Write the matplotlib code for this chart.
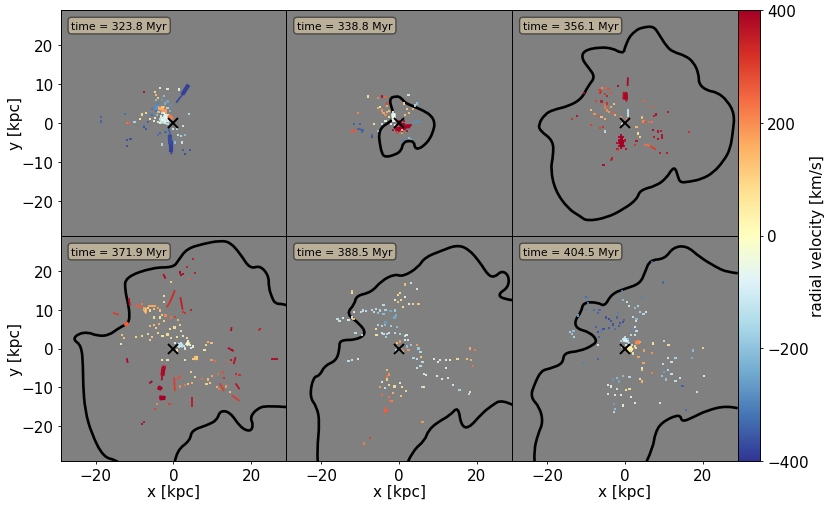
import numpy as np
import matplotlib
matplotlib.use("Agg")
import matplotlib.pyplot as plt
from matplotlib.collections import LineCollection
from matplotlib.cm import ScalarMappable
from matplotlib.colors import Normalize
from matplotlib.path import Path
from matplotlib.patches import PathPatch

times = [323.8, 338.8, 356.1, 371.9, 388.5, 404.5]

# shock contours, kpc
c2 = [(-2.0,6.5),(-0.7,7.0),(0.6,6.4),(1.5,5.2),(3.6,4.3),(6.2,3.2),(8.3,1.9),(9.2,0),(8.8,-2.0),(7.9,-4.1),
      (6.4,-5.8),(4.9,-6.7),(4.0,-6.3),(3.9,-5.0),(2.7,-4.5),(1.0,-5.0),(0.6,-7.1),(-1.1,-8.2),(-3.7,-8.8),
      (-4.5,-7.6),(-5.0,-5.0),(-5.2,-2.8),(-4.5,-1.1),(-3.3,-0.3),(-1.5,0.9),(-1.5,2.7),(-2.1,4.5),(-2.4,5.8),(-2.0,6.5)]
c3 = [(-0.3,18.2),(0.5,21.2),(2.7,23.8),(4.8,24.6),(7.4,24.8),(8.7,22.9),(10.8,19.5),(12.5,18.2),(15.5,17.3),
      (17.7,15.6),(19.0,12.6),(19.0,10.0),(21.1,8.3),(23.7,7.9),(26.3,5.8),(28.2,2.3),(27.8,-2.0),(27.1,-6.7),
      (25.4,-9.7),(22.8,-12.7),(19.8,-14.4),(16.4,-15.1),(14.2,-15.3),(13.6,-13.6),(13.0,-11.6),(12.1,-11.8),
      (10.8,-14.0),(8.2,-16.1),(3.9,-17.2),(3.1,-19.6),(-0.3,-22.1),(-4.6,-24.3),(-9.8,-25.2),(-11.5,-23.9),
      (-14.5,-22.1),(-17.9,-17.4),(-19.1,-11.8),(-18.4,-8.4),(-18.4,-4.5),(-21.8,-2.0),(-22.2,-0.3),(-20.5,2.3),
      (-18.4,3.4),(-14.5,4.3),(-11.1,6.2),(-9.4,9.6),(-7.6,11.8),(-9.4,14.3),(-11.1,16.5),(-10.6,18.6),(-6.4,19.5),
      (-2.9,19.1),(-1.2,18.0),(-0.3,18.2)]
c4a = [(29.2,11.1),(28.3,11.5),(26.2,11.5),(25.3,13.2),(24.5,15.8),(24.5,18.8),(22.3,21.4),(19.7,20.5),(17.2,24.4),
       (14.6,27.4),(12.0,27.8),(7.7,27.0),(3.4,25.7),(1.3,22.7),(0,20.9),(-5.2,20.9),(-12.4,18.4),(-12.4,14.9),
       (-11.6,11.5),(-11.2,8.5),(-11.6,6.4),(-13.7,5.5),(-16.7,3.3),(-19.7,3.3),(-21.9,4.2),(-24.5,3.8),(-25.8,2.3),
       (-23.6,0.8),(-23.2,-4.8),(-23.2,-9.1),(-22.7,-16.0),(-21.0,-22.0),(-18.0,-28.0),(-14.6,-28.8),(-14.0,-29.5)]
c4b = [(0.4,-29.1),(0.9,-26.3),(4.3,-23.7),(4.7,-21.1),(8.6,-19.8),(11.2,-18.5),(12.0,-16.0),(14.6,-16.4),(17.2,-20.3),
       (19.7,-21.5),(20.6,-19.8),(19.7,-17.7),(21.5,-15.5),(24.0,-14.7),(29.2,-15.1)]
c5a = [(-20.9,-29.1),(-21.1,-26.3),(-20.4,-19.0),(-21.1,-15.1),(-23.0,-12.5),(-22.1,-7.4),(-20.4,-7.0),(-19.1,-4.4),
       (-16.1,-3.1),(-15.3,-0.1),(-15.3,2.2),(-11.0,2.2),(-8.4,3.8),(-10.1,6.4),(-13.6,8.9),(-11.4,11.5),(-11.0,13.6),
       (-7.1,14.5),(-4.5,17.5),(-1.1,19.2),(1.0,18.5),(4.9,20.9),(6.6,23.5),(10.9,25.2),(14.8,26.7),(17.8,25.7),
       (20.8,22.2),(22.9,18.8),(24.6,18.4),(26.4,20.1),(28.2,18.8),(28.1,15.8),(25.5,14.1),(26.4,12.8),(29.5,12.4)]
c5b = [(2.3,-29.1),(3.6,-26.3),(6.6,-23.7),(7.5,-21.1),(9.9,-19.0),(13.0,-17.3),(15.2,-14.9),(15.9,-19.8),(17.8,-20.7),
       (21.2,-16.8),(23.8,-14.7),(26.4,-13.1),(29.5,-14.7)]
c6a = [(-23.2,-29.1),(-23.4,-26.3),(-22.3,-22.0),(-21.0,-19.0),(-21.9,-15.1),(-24.3,-12.5),(-23.2,-9.1),(-21.5,-5.7),
       (-19.3,-5.2),(-15.9,-3.9),(-15.7,-1.1),(-11.6,-0.7),(-8.2,0.8),(-7.1,2.1),(-9.0,4.2),(-12.4,5.1),(-12.9,7.2),
       (-11.2,9.4),(-10.7,11.9),(-6.9,11.9),(-5.2,10.8),(-3.4,14.1),(0,15.4),(3.9,16.7),(5.2,19.7),(6.4,22.8),(10.3,23.1),
       (12.4,26.1),(15.9,26.5),(19.3,23.5),(23.6,20.9),(26.2,19.7),(29.0,19.4)]
c6b = [(5.6,-29.1),(7.3,-25.4),(7.7,-22.0),(9.4,-19.0),(14.2,-16.8),(14.6,-19.0),(17.6,-17.7),(21.0,-16.0),(26.2,-14.7),(29.0,-15.4)]

# filaments: x1, y1, x2, y2, radial velocity
s1 = [(3.9,9.8,2.1,7.0,-380),(2.1,7.0,0.7,5.2,-370),(-1.3,-1.1,-0.6,-4.0,-340),(-0.6,-4.0,-0.5,-8.0,-385),(-0.9,-3.5,-0.8,-7.0,-380)]
s2 = [(-1.5,3.0,-1.5,0.2,-70),(-1.2,2.5,-1.1,0.3,-40),(-10.5,-1.5,-9.0,-1.9,-350),(-12.5,-2.3,-10.5,-1.6,270),(3.5,0.2,5.7,0.4,-280)]
s3 = [(0.8,11.7,0.7,9.5,390),(0.3,8.0,0.4,5.5,380),(-0.3,8.0,-0.4,6.0,370),(0.7,3.5,0.7,1.5,-130),(5.0,-5.5,6.5,-5.9,240),
      (6.5,-5.9,8.0,-6.8,300),(-6.0,8.3,-6.5,7.5,330)]
s4 = [(-11.4,13.0,-11.2,11.0,370),(-2.6,19.2,-2.0,18.0,380),(0.4,15.0,-0.9,11.9,330),(-0.9,11.9,-1.7,10.6,320),(1.8,13.2,2.4,10.0,350),
      (-10.0,11.0,-8.0,10.8,260),(-7.5,10.0,-7.0,9.0,130),(-6.5,11.0,-4.5,11.0,160),(-15.5,9.2,-14.0,8.7,300),(-12.6,6.1,-11.5,6.6,280),
      (-2.6,-4.4,-3.0,-8.2,385),(-2.0,-4.4,-2.6,-6.0,350),(-4.0,-10.0,-2.8,-10.4,395),(-3.6,-12.6,-2.2,-12.4,400),(-3.4,-13.2,-2.4,-13.0,400),
      (0.2,-7.5,0.4,-11.0,300),(2.0,-7.0,1.0,-8.0,280),(4.8,-12.5,4.8,-15.0,360),(-12.0,-2.5,-11.7,-3.7,390),(14.0,0.2,15.5,-0.7,380),
      (16.0,-2.2,15.5,-4.0,370),(25.0,-2.8,27.0,-2.8,385),(15.0,5.5,14.8,4.5,380),(16.0,-9.0,17.0,-10.5,370),(15.0,-12.0,17.0,-13.5,300),
      (12.0,-9.0,13.0,-11.0,300),(-6.2,-9.0,-5.4,-8.4,395)]

# dense clumps, same columns as the filaments
b1 = [(3.9,9.8,2.3,7.3,-385),(-0.6,-4.5,-0.6,-7.5,-385),(-0.9,-3,-0.8,-5.5,-370),(-4.5,4.5,-3.5,2.5,-280),(-3,3.5,-2,2.5,190),
      (-3.5,1.2,-1,0.6,-100),(-2.5,2,-1,1.5,-60),(-3.5,0.5,-1.8,0.2,-130),(-4,3.8,-2.5,3.8,170),(-1.2,2,-0.3,0.8,220)]
b2 = [(0.5,-1,2.8,-0.8,395),(-1,-1.6,1,-1.4,395),(0,-0.3,1.5,-0.6,395),(-1.5,2.5,-1.4,0.8,-60)]
b3 = [(-1.3,-3.8,-0.6,-3.8,400),(-1.5,-4.8,-0.2,-4.8,400),(-1.3,-5.8,-0.3,-5.6,400),(0.2,7.8,0.3,6,390)]
b4 = [(-3.6,-12.6,-2,-12.8,400),(-4,-10,-3,-10.4,395),(-2.5,-4.8,-2.8,-7,385),(-12.6,6.1,-11.6,6.5,260),(-7.5,10.3,-7,9.8,150),
      (5.3,-2.5,6.3,-2.5,120),(3.3,1.5,4,1,-30),(1,1,2.5,0.7,-130)]
b5 = [(-3.5,-15.8,-3.2,-16.4,260)]
b6 = [(2.8,1.5,3.8,1.7,200),(0.5,0.4,2,-0.5,40),(-0.5,2.3,1,2,-100)]

# gas cells: x, y, radial velocity
p1 = [(-5,4.2,-300),(-4.5,3,-330),(-4,5,-300),(-3,6,-260),(-2.5,7,-200),(-1.5,5.5,-250),(-0.5,4.5,-280),(-5.5,2,-330),
      (-6.5,0.3,-350),(-7.5,-1,-370),(-3,2.5,-120),(-2.5,1.5,-80),(-3.5,1,-130),(-2,0.5,-100),(-4,0.3,-90),(-1.5,2,-100),
      (-1,1,-150),(-3,3.8,150),(-3.5,3.5,170),(-2.5,4,150),(-2,3.2,180),(-2.8,4.2,120),(-1.2,1.8,220),(-0.5,1,230),
      (-1.8,2.6,190),(-2.2,0.2,30),(-3.5,0,0),(-5,0.5,-20),(-6,1,30),(-7,2.5,70),(-8,2.2,70),(-8.5,1,30),(-4,6.5,100),
      (-4.5,5.8,-200),(-3.5,4.5,-280),(-2.2,5,-230),(-4.2,2,-200),(-3.2,1.8,-60),(-2.8,0.7,-30),(-1.8,1.2,-70),(-4.8,1.3,-40),
      (-3.8,2.8,130),(-1.5,3.8,-150),(-0.8,3,-220),(-2.5,2.5,-40),(-5.5,3.5,-320),(-6,2.2,-300),(-0.8,0.2,-200),(-1.5,-0.2,-130),
      (-18.5,1.5,-350),(-18.5,0.4,-350),(-12.5,2.3,-330),(-12,0.1,230),(-11.5,0.1,250),(-10,0.3,-150),(-12,-4.3,-370),(-11,-4.2,-370),
      (-12,-5.8,-370),(-7.6,8,380),(-4.7,8,60),(-4.5,7.2,130),(-3.5,9,-50),(-1.5,8.7,-40),(1.5,8.6,-50),(4,2.3,-150),
      (2.5,-0.7,-100),(3,-3,-200),(2,-3.4,-150),(2.3,-5,-100),(0.5,-5,-200),(2.5,-7,-360),(3,-8,-370),(4.2,-7,-360),
      (-3,-5.5,-150),(-3.5,-2.5,-350),(-4,-3,-330),(0,-1.5,-100),(1,-1.5,-120),(1.2,-3,-120),(-2,-2.3,-340),(-7,-1.5,-360),(-7.5,-0.5,-300)]
p2 = [(-8,6.8,50),(-5.5,6.5,200),(-4.5,6.8,380),(-3.5,6.6,250),(-4.8,4,60),(-5.5,3.8,150),(-4.5,3.2,190),(-4,2.5,170),
      (-3.5,2,200),(-3,2.8,140),(-2.5,3,120),(-2.5,1.5,60),(-3.5,0.5,-50),(-4.5,-0.2,-100),(-6.5,-0.3,50),(-10.5,2.5,200),
      (-11.5,-0.3,-350),(-10,-0.2,-350),(-10.5,-1.5,-340),(-9.5,-2.2,-350),(-7,-3,-350),(-7,-3.7,-370),(-5.5,-2,-200),
      (2.4,7.2,-100),(1.2,5,90),(4,4.5,-150),(4.5,5,-200),(2,3.5,100),(3.5,3.5,150),(2.5,2.5,120),(1.5,2,110),
      (1,-4.5,-300),(2.5,-3.8,-200),(3,-4,-250),(-1.3,2,-50),(-3,5,300),(-3,4.3,150),
      (0.5,-0.5,390),(1,-1,395),(1.5,-1,395),(2,-0.8,390),(2.7,-0.7,385),(3,-0.5,380),(-1,-1.2,395),(-1.5,-1.7,390),
      (-0.5,-1.5,390),(0,-2,390),(0.8,-2.2,380),(1.2,0.5,390),(0,0.5,380),(2,-2,380),(0.4,-1,395),(1.4,-1.6,395),
      (0.7,-1.7,100),(0.8,-2.5,180),(-0.5,-2.6,300),(-1,-0.5,-80),(-2,-0.3,-60)]
p3 = [(-1.5,-3.5,395),(-1,-3,395),(-0.8,-4,400),(-1.5,-4.5,400),(-1,-5,400),(-0.5,-5.5,395),(-1.5,-6,390),(-1,-6.5,390),
      (-0.3,-6,390),(0,-4.5,380),(-0.5,-3.5,395),(-1.9,-5.2,380),(-1.9,-6.7,370),
      (-6.5,8.5,300),(-5.8,8.9,200),(-5,8.9,250),(-4.2,8.7,280),(-1.7,9.5,390),(-5.2,7.5,320),(-4.5,7,350),(-3.5,7.8,280),
      (-7.5,5.7,300),(-6,5.5,360),(-4.5,5,330),(-5,4.5,240),(-5,3.8,220),(-4.5,3.2,200),(-3.5,4,150),(-2.7,4.8,120),
      (-4,2.8,180),(-3,2.7,260),(-2.5,2,140),(-8.8,3.3,120),(-7.8,2.3,190),(-6.8,1.8,280),(-6,1.5,120),(-5,1,150),
      (-8.6,-0.6,300),(-6.3,-1.3,300),(-5,-2.2,-130),(-5.7,-1,330),(-1,1.5,200),(0.5,1,220),(-0.8,-0.2,-100),
      (-13.5,1.1,330),(-12.2,1.7,380),(-10.5,7.6,380),(3,-1,140),(4.3,1.4,120),(4.8,0.4,200),(5.2,0.2,280),(6.2,0.3,240),
      (7,0.3,230),(5,5.7,250),(7,4.2,260),(7.5,1.9,370),(8,2.2,380),(11,2.8,370),(3.3,-2.7,60),(3.8,-3.5,100),(3,-4.7,380),
      (2.7,-5.7,320),(7.2,-1.7,385),(8.5,-2.2,385),(9.3,-2,370),(9.5,-3.2,380),(7.5,-3.5,370),(8.5,-4.2,385),(9.5,-3.9,380),
      (9,-7.6,360),(10.8,-7.7,370),(16.5,-2.4,330),(-5.5,-10.8,385),(-3.5,-9.5,350),(-3.3,-9.1,360),(-1.8,-7,300),(0.2,-6.7,380)]
p4 = [(1.8,19.6,395),(1.9,19,395),(2.4,19.3,390),(5,23,360),(3.4,21,350),(5.5,19.5,360),(-0.7,17.2,100),(4,18,250),
      (-8,11.5,220),(-7.5,10.3,170),(-7,9.6,130),(-6.5,10.5,90),(-6,9.8,70),(-5,10.2,120),(-4,10.5,180),(-3.5,9.8,120),(-2.5,12,60),
      (-2.3,13.5,60),(-3,8.7,110),(-5,8,60),(-3.5,8,30),(-6,5.7,130),(-5,6,120),(-4.5,5.3,90),(-3.7,6.3,150),(-2.5,7,100),
      (-2,8.5,200),(-0.5,8,240),(0.5,8.2,300),(1.2,7.3,130),(1.8,6,90),(2.5,9.5,320),(3,9.2,330),(4.5,10,350),(-0.8,5,60),
      (0.3,5.4,50),(2,4.5,60),(-6.5,3.8,80),(-5.5,3,100),(-6,2.2,90),(-8,3.2,70),(-9.5,3,80),(-13.2,3.5,110),(-12.6,2.8,110),(-13.5,1.2,40),
      (-4,4,80),(-2.8,3.2,40),(-1.5,3.6,60),(-0.5,2.8,90),(1,3,50),(2.5,3.3,-70),(3.5,2.7,60),(3.7,2,-60),(4,1.5,60),(4.2,0.8,-30),
      (0.5,1.5,-90),(1,0.8,-120),(1.5,0.3,-130),(2,1.4,-100),(2.7,0.7,-110),(3,0,-60),(1,-0.5,40),(-0.5,-0.7,120),(4.5,0.2,-90),(5,0.5,-60),
      (5.5,-2.3,130),(5.8,-2.6,150),(6,-2.8,120),(5,-2.7,100),(9,1.6,150),(9.8,1.5,120),(8.3,0.8,80),(8,-0.4,40),(3,-3,40),(-1.5,-3,30),(-3,-3,30),
      (9.8,-3,180),(10.6,-3.3,240),(14,-3.5,260),(4.5,-6,100),(5.5,-7.3,70),(7.3,-7.8,240),(4.8,-9,150),(3.7,-9.2,120),(3,-9.5,230),(1.8,-9.8,200),
      (9,-8,130),(9.5,-8.8,100),(8.5,-9.2,90),(10,-7,170),(11.5,-6.5,240),(12.8,-6.2,280),(13,-7.5,330),(16,-6.5,340),(17,-6.8,330),
      (11.2,-10,150),(11.8,-10.5,220),(13.6,-9.8,180),(14.5,-11.2,120),(-4.3,-14.2,200),(-4.8,-15.5,300),(-7.5,-19,370),(-8,-19.4,390),(-1,-14.3,300),
      (22.3,5,350),(22,4.7,330),(15,-0.3,385),(14.8,-3,370)]
p5 = [(-12,8,-90),(-11.7,7.6,100),(-13,7.3,-60),(-15.8,7.5,-120),(-15.3,7,-100),(-16,7.7,-120),(-14.5,7.8,-80),(-12,14.8,100),(-12,14.3,40),
      (-11.5,9.4,-60),(-9.8,9.5,-110),(-9.3,9.8,-120),(-8.5,9.7,-110),(-7,10,-130),(-6.5,9.3,-120),(-6,10.2,-110),(-5.5,9.2,-180),(-4.8,9.8,-140),
      (-4,9,-200),(-3.5,10,-150),(-4,11.3,-120),(-2.2,9.6,-240),(-1,9.8,-170),(-0.7,8.5,-230),(-1.2,8,-240),(-1,12.5,20),(-0.3,13.8,70),(0.3,14.2,70),
      (-0.2,12,120),(0.5,12.5,60),(1.5,13.2,-50),(2.5,11.4,-40),(3.5,11.5,80),(5,11.5,100),(1,10.8,60),(1.5,16.5,120),(3,16.8,-100),(4.7,15.3,-90),
      (-3.5,6.7,-260),(-3.7,6,-200),(-5.5,6,-150),(-4.5,5.8,-140),(-2,5.7,-160),(-0.5,5.5,-200),(-4.3,4,-100),(-4,3.7,-130),(-3.2,3.7,-140),(-3.3,3,-160),
      (-2.5,4,-100),(-1,4,-120),(0.3,3.8,-150),(1.5,3.3,-120),(2.3,2.3,-100),(1.9,3.4,-60),(-9.5,3.5,-110),(-11.2,4,-120),(-6,5,60),(-5.8,3.5,40),
      (-0.5,1.5,120),(0.2,1.8,180),(-0.5,0.7,200),(0.5,0.2,-200),(1,-0.7,-170),(2,0.5,-200),(3,1,-170),(4.7,1,180),(5,0,-170),(5.5,-1,-140),
      (1,-0.3,210),(-0.8,-0.5,-130),(3.7,-2.5,-150),(4.5,-2.7,-120),(5.7,-2.3,100),(6,-3.5,-120),(5.5,-4.5,-130),(4.5,-5,-100),(9,-2.6,-60),(10.5,-3,-60),
      (12,-3,-40),(13,-3,-40),(10,-3.5,-50),(12,-5,-70),(9.8,-7,-60),(11,-7.8,-50),(12.5,-7.5,-70),(13.8,-9.5,-70),(6.3,-6.5,-80),(6,-10,-130),(6.5,-10,40),
      (7,-6.8,-60),(18.3,0,150),(19.5,-0.3,220),(17.5,-2.6,120),(18.5,-3,150),(19,-4.5,230),(15.5,-10.7,-150),(18,-11.8,-130),(18.3,-11.3,60),(15,-2.7,60),
      (-3,-5.5,120),(-2.5,-6.7,190),(-3,-7.2,240),(-3.2,-8,100),(-4.5,-8.7,-70),(-5,-10,170),(-3.7,-10.2,-120),(-2.5,-9.5,70),(-1.2,-9.8,60),(0.3,-9,-50),
      (0.8,-10,60),(1.8,-11,70),(0.5,-12.2,120),(-1.5,-11.5,150),(-2.7,-12.5,230),(-2.2,-13.5,240),(-3.3,-15.3,260),(-3.3,-16.4,270),(-3.7,-16,250),(-4.5,-12,240),
      (-1.8,-13.5,210),(-9,-24.5,220),(-7.5,-23,300),(-12,-3,-100),(-10.5,-2.8,-80),(-13,-3.2,-120),(1.5,2.3,-80),(6,-19,180),(2.4,-0.3,190)]
p6 = [(-10,13.3,-330),(-9.5,13,-300),(-9.5,11.7,-300),(-10,10,-300),(-8,10,-330),(-7,9.2,-340),(-6.5,10,-340),(-4.8,8,-370),(-4,7.5,-380),(-3.5,7,-370),
      (-3,6.2,-370),(-2,8,-350),(-1.8,9.2,-300),(-1.2,6.5,-370),(-1.5,5.7,-360),(-0.5,6.8,-370),(-0.3,7.4,-350),(-2.5,5,-330),(-4,5.3,-360),(-5.5,5,-370),
      (-7,4.3,-370),(-7.5,5.5,-350),(-6,4.5,-300),(-6.6,3,-350),(-13.2,4.5,-200),(-13.5,3.8,-180),(-13,3,-150),(-12,8.5,-250),(-7,1,-100),
      (-0.8,14.8,-300),(-0.5,12.5,-200),(0.5,12,-120),(1,11,-100),(2.5,10.5,-200),(3.3,11,-150),(4.5,13,-300),(3.8,9.3,-150),(4.8,9,-140),(5.5,9.3,-100),(2,8.2,-120),
      (3,7.5,-200),(2.8,7,-100),(2.5,5.5,-80),(3,4.5,-120),(2.5,3.5,-100),(2,5,-280),(1.5,3.5,-130),(0,3,-130),(-0.5,2.5,-100),(-1,2,-150),(0.8,2.5,-220),
      (0.5,2,-90),(1,1.5,-120),(0.3,0.8,-100),(1.8,1,-110),(1.5,0.3,30),(1.2,-0.3,70),(2.5,0.5,70),(3,1.5,200),(3.3,1.6,220),(4,1.7,160),(2.8,0.2,60),
      (-0.8,0.5,-50),(1,-1,40),(2,-1.3,60),(3.5,-2.2,170),(5,-0.5,170),(7,-1.2,190),(4.8,-3.8,160),(4.5,-5.5,100),(4.5,-5,-30),(7.2,1.3,40),(10,2,-130),(11.2,0.8,50),
      (17.5,-0.5,-200),(17.3,-2.5,-230),(20,0.2,90),(11,-2.5,-100),(12,-3.5,-100),(13,-2.5,-150),(9.8,-4,-120),(10,-6,-250),(11,-5.5,-130),(12,-6.5,-110),
      (7,-6.3,220),(9.5,-7,-180),(10.5,-8,-180),(13,-8.3,-120),(14.2,-7.7,-100),(14.8,-9.7,-350),(4.5,-8.5,140),(3.8,-7.8,50),(1.2,-7.4,-140),(-2,-7.5,-200),(-3,-8,-270),
      (-1.5,-8.5,-250),(-0.5,-7,-200),(-3.5,-9.8,-60),(-2,-10.5,-100),(0.2,-10.7,40),(1.2,-10.5,60),(-4.3,-9.5,-60),(-4.4,-11.7,-100),(-2.5,-12,-80),(-1,-12,-50),
      (1.5,-12.5,-50),(2.7,-14,-50),(-2.5,-15.6,-200),(-2.7,-16.3,-130),(-2.8,-14.2,-250),(-0.5,-14.7,-60),(9,-14,-100),(15.7,-15.8,-330),(18.5,-11.3,-100),(20.3,-7,-60),
      (-10.8,-3.7,-300),(-6.8,-2.7,-350),(9.7,17,-340),(7,22.4,-330),(-14,4.2,-170)]

contours = [[], [c2], [c3], [c4a, c4b], [c5a, c5b], [c6a, c6b]]
streaks = [s1, s2, s3, s4, [], []]
clumps = [b1, b2, b3, b4, b5, b6]
cells = [p1, p2, p3, p4, p5, p6]

cmap = plt.get_cmap("RdYlBu_r")
norm = Normalize(-400, 400)
fs = 11


def rounded_path(pts):
    # quadratic curves with the read points as control points, so the corners round off
    pts = np.array(pts, dtype=float)
    verts = [pts[0]]
    codes = [Path.MOVETO]
    for k in range(1, len(pts) - 1):
        end = pts[k + 1] if k == len(pts) - 2 else (pts[k] + pts[k + 1]) / 2
        verts += [pts[k], end]
        codes += [Path.CURVE3, Path.CURVE3]
    return Path(verts, codes)


def draw_segments(ax, rows, lw):
    rows = np.array(rows, dtype=float)
    segs = [[(a[0], a[1]), (a[2], a[3])] for a in rows]
    ax.add_collection(LineCollection(segs, array=rows[:, 4], cmap=cmap, norm=norm, linewidths=lw, zorder=3))


fig = plt.figure(figsize=(8.31, 5.06), dpi=100)
w, h = 831.0, 506.0
xl = [60.5, 286.2, 512.0, 737.7]
yl = [462.0, 237.0, 11.0]

for i in range(6):
    col = i % 3
    row = 1 if i < 3 else 0
    ax = fig.add_axes([xl[col] / w, 1 - yl[row] / h, (xl[col + 1] - xl[col]) / w, (yl[row] - yl[row + 1]) / h])
    ax.set_facecolor("#808080")

    for c in contours[i]:
        ax.add_patch(PathPatch(rounded_path(c), fill=False, edgecolor="k", lw=1.9, zorder=2))

    if streaks[i]:
        draw_segments(ax, streaks[i], 1.3)
    draw_segments(ax, clumps[i], 3.0)

    p = np.array(cells[i])
    ax.scatter(p[:, 0], p[:, 1], c=p[:, 2], cmap=cmap, norm=norm, marker="s", s=2.4, linewidths=0, alpha=0.88, zorder=3)

    ax.plot(0, 0, marker="x", color="k", ms=7.5, mew=1.4, zorder=4)
    ax.text(-26.2, 25, "time = %.1f Myr" % times[i], fontsize=7.8, va="center", ha="left",
            bbox=dict(boxstyle="round", facecolor="wheat", alpha=0.5), zorder=5)

    ax.set_xlim(-29, 29)
    ax.set_ylim(-29, 29)
    ax.set_xticks([-20, 0, 20])
    ax.set_yticks([-20, -10, 0, 10, 20])
    ax.tick_params(labelsize=fs, length=2.5, width=0.6, pad=2.5)
    if col == 0:
        ax.set_ylabel("y [kpc]", fontsize=fs, labelpad=-1)
    else:
        ax.tick_params(left=False, labelleft=False)
    if row == 0:
        ax.set_xlabel("x [kpc]", fontsize=fs, labelpad=0.5)
    else:
        ax.tick_params(bottom=False, labelbottom=False)
    for sp in ax.spines.values():
        sp.set_linewidth(0.7)

cax = fig.add_axes([737.7 / w, 1 - 462.0 / h, 22.5 / w, 451.0 / h])
cb = fig.colorbar(ScalarMappable(norm=norm, cmap=cmap), cax=cax)
cb.set_ticks([-400, -200, 0, 200, 400])
cb.ax.tick_params(labelsize=fs, length=2.5, width=0.6, pad=2.5)
cb.set_label("radial velocity [km/s]", fontsize=fs, labelpad=1)
cb.outline.set_linewidth(0.7)

fig.savefig("out.png", dpi=100)
